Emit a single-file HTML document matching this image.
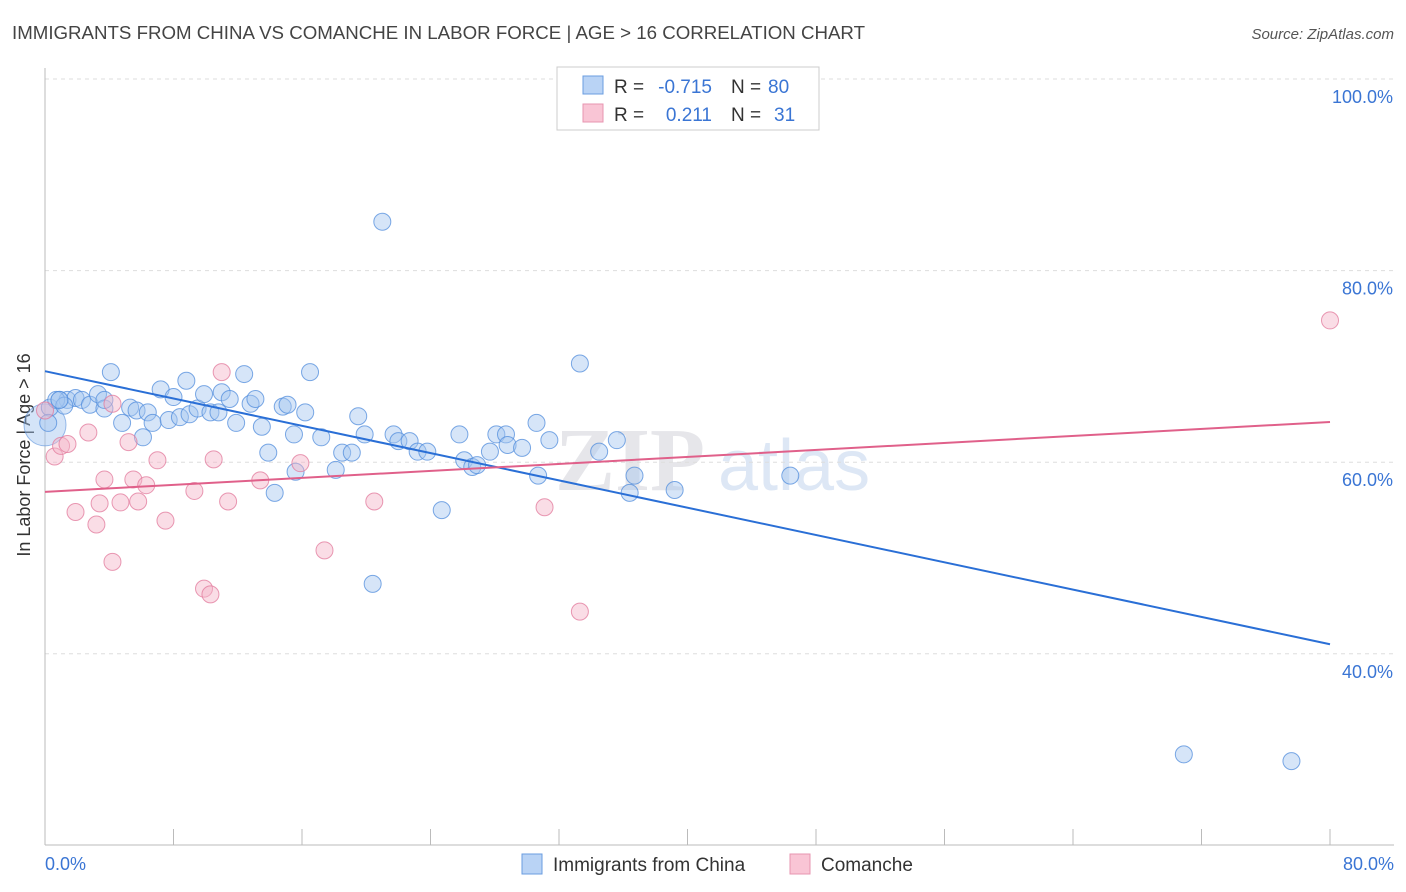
<!DOCTYPE html>
<html><head><meta charset="utf-8"><style>
body{margin:0;background:#fff;font-family:"Liberation Sans",sans-serif;}
svg{display:block}
</style></head><body>
<svg id="chart" width="1406" height="892">
<text x="12" y="39" font-size="18.7" fill="#444">IMMIGRANTS FROM CHINA VS COMANCHE IN LABOR FORCE | AGE &gt; 16 CORRELATION CHART</text>
<text x="1394" y="39" font-size="15" fill="#555" text-anchor="end" font-style="italic">Source: ZipAtlas.com</text>
<text x="555" y="490" font-size="90" fill="#e6e6ea" font-family="Liberation Serif" font-weight="bold">ZIP</text>
<text x="718" y="490" font-size="72" fill="#dde7f5">atlas</text>
<g id="grid"></g>
<line x1="45" y1="68" x2="45" y2="845" stroke="#bbb"/>
<line x1="45" y1="845" x2="1394" y2="845" stroke="#bbb"/>
<text x="30" y="455" font-size="18" fill="#333" text-anchor="middle" transform="rotate(-90 30 455)">In Labor Force | Age &gt; 16</text>
<text x="45" y="870" font-size="18" fill="#3a75d4">0.0%</text>
<text x="1394" y="870" font-size="18" fill="#3a75d4" text-anchor="end">80.0%</text>
<g id="marks"></g>
<g>
<rect x="557" y="67" width="262" height="63" fill="#fff" stroke="#ccc"/>
<rect x="583" y="76" width="20" height="18" fill="#b9d3f5" stroke="#6a9de0"/>
<rect x="583" y="104" width="20" height="18" fill="#f9c5d5" stroke="#e795b0"/>
<text x="614" y="93" font-size="19" fill="#333">R =</text>
<text x="712" y="93" font-size="19" fill="#3a75d4" text-anchor="end">-0.715</text>
<text x="731" y="93" font-size="19" fill="#333">N =</text>
<text x="768" y="93" font-size="19" fill="#3a75d4">80</text>
<text x="614" y="121" font-size="19" fill="#333">R =</text>
<text x="712" y="121" font-size="19" fill="#3a75d4" text-anchor="end">0.211</text>
<text x="731" y="121" font-size="19" fill="#333">N =</text>
<text x="774" y="121" font-size="19" fill="#3a75d4">31</text>
</g>
<g>
<rect x="522" y="854" width="20" height="20" fill="#b9d3f5" stroke="#6a9de0"/>
<text x="553" y="871" font-size="19" fill="#333">Immigrants from China</text>
<rect x="790" y="854" width="20" height="20" fill="#f9c5d5" stroke="#e795b0"/>
<text x="821" y="871" font-size="19" fill="#333">Comanche</text>
</g>
</svg>
<script>
const yTicks=[40,60,80,100];
const xTickCount=10;
const blueX=[0.3,0.9,1.4,1.9,2.3,2.8,3.3,3.7,4.1,4.8,5.3,5.7,6.1,6.4,6.7,7.2,7.7,8.0,8.4,8.8,9.0,9.5,9.9,10.3,10.8,11.0,11.5,11.9,12.4,12.8,13.1,13.5,13.9,14.3,14.8,15.1,15.5,15.6,16.2,16.5,17.2,18.1,18.5,19.1,19.5,19.9,20.4,21.0,21.7,22.0,22.7,23.2,23.8,24.7,25.8,26.1,26.6,26.9,27.7,28.1,28.7,28.8,29.7,30.6,30.7,31.4,33.3,34.5,35.6,36.4,36.7,39.2,46.4,70.9,77.6,0.2,0.7,1.2,0.9,3.7];
const blueY=[65.7,66.5,66.5,66.7,66.5,66.0,67.1,65.6,69.4,64.1,65.7,65.4,62.6,65.2,64.1,67.6,64.4,66.8,64.7,68.5,65.0,65.6,67.1,65.2,65.2,67.3,66.6,64.1,69.2,66.1,66.6,63.7,61.0,56.8,65.8,66.0,62.9,59.0,65.2,69.4,62.6,59.2,61.0,61.0,64.8,62.9,47.3,85.1,62.9,62.2,62.2,61.1,61.1,55.0,62.9,60.2,59.5,59.7,61.1,62.9,62.9,61.8,61.5,64.1,58.6,62.3,70.3,61.1,62.3,56.8,58.6,57.1,58.6,29.5,28.8,64.1,66.5,65.9,66.5,66.5];
const pinkX=[0.0,0.6,1.0,1.4,1.9,2.7,3.2,3.4,3.7,4.2,4.2,4.7,5.2,5.5,5.8,6.3,7.0,7.5,9.3,9.9,10.3,10.5,11.0,11.4,13.4,15.9,17.4,20.5,31.1,33.3,80.0];
const pinkY=[65.4,60.6,61.7,61.9,54.8,63.1,53.5,55.7,58.2,49.6,66.1,55.8,62.1,58.2,55.9,57.6,60.2,53.9,57.0,46.8,46.2,60.3,69.4,55.9,58.1,59.9,50.8,55.9,55.3,44.4,74.8];
const blueLine=[69.5,41.0];
const pinkLine=[56.9,64.2];
const X=v=>45+v/80*1285;
const Y=v=>79+(100-v)*9.58;
const NS='http://www.w3.org/2000/svg';
const grid=document.getElementById('grid'),marks=document.getElementById('marks');
function mk(tag,attrs,parent){const e=document.createElementNS(NS,tag);for(const k in attrs)e.setAttribute(k,attrs[k]);parent.appendChild(e);return e;}
yTicks.forEach(t=>{
 const l=mk('line',{x1:45,x2:1394,y1:Y(t),y2:Y(t),stroke:'#ddd','stroke-dasharray':'4,4'},grid);
 
 
 const tx=mk('text',{x:1393,y:Y(t)+24,'font-size':18,fill:'#3a75d4','text-anchor':'end'},grid);
 tx.textContent=t.toFixed(1)+'%';
 
 
});
for(let i=1;i<=xTickCount;i++){
 const l=mk('line',{x1:X(i*8),x2:X(i*8),y1:829,y2:845,stroke:'#bbb'},grid);
 
 
}
const big=mk('circle',{cx:X(0),cy:Y(63.9),r:21,fill:'rgba(160,195,240,0.45)',stroke:'rgba(90,145,220,0.6)'},marks);


blueX.forEach((x,i)=>{
 const c=mk('circle',{cx:X(x),cy:Y(blueY[i]),r:8.5,fill:'rgba(165,198,240,0.45)',stroke:'rgba(80,140,220,0.75)','stroke-width':1},marks);
 
 
});
pinkX.forEach((x,i)=>{
 const c=mk('circle',{cx:X(x),cy:Y(pinkY[i]),r:8.5,fill:'rgba(245,180,200,0.45)',stroke:'rgba(225,120,155,0.75)','stroke-width':1},marks);
 
 
});
const bl=mk('line',{x1:X(0),y1:Y(blueLine[0]),x2:X(80),y2:Y(blueLine[1]),stroke:'#2a6fd6','stroke-width':2},marks);


const pl=mk('line',{x1:X(0),y1:Y(pinkLine[0]),x2:X(80),y2:Y(pinkLine[1]),stroke:'#e0608a','stroke-width':2},marks);


</script>
</body></html>
